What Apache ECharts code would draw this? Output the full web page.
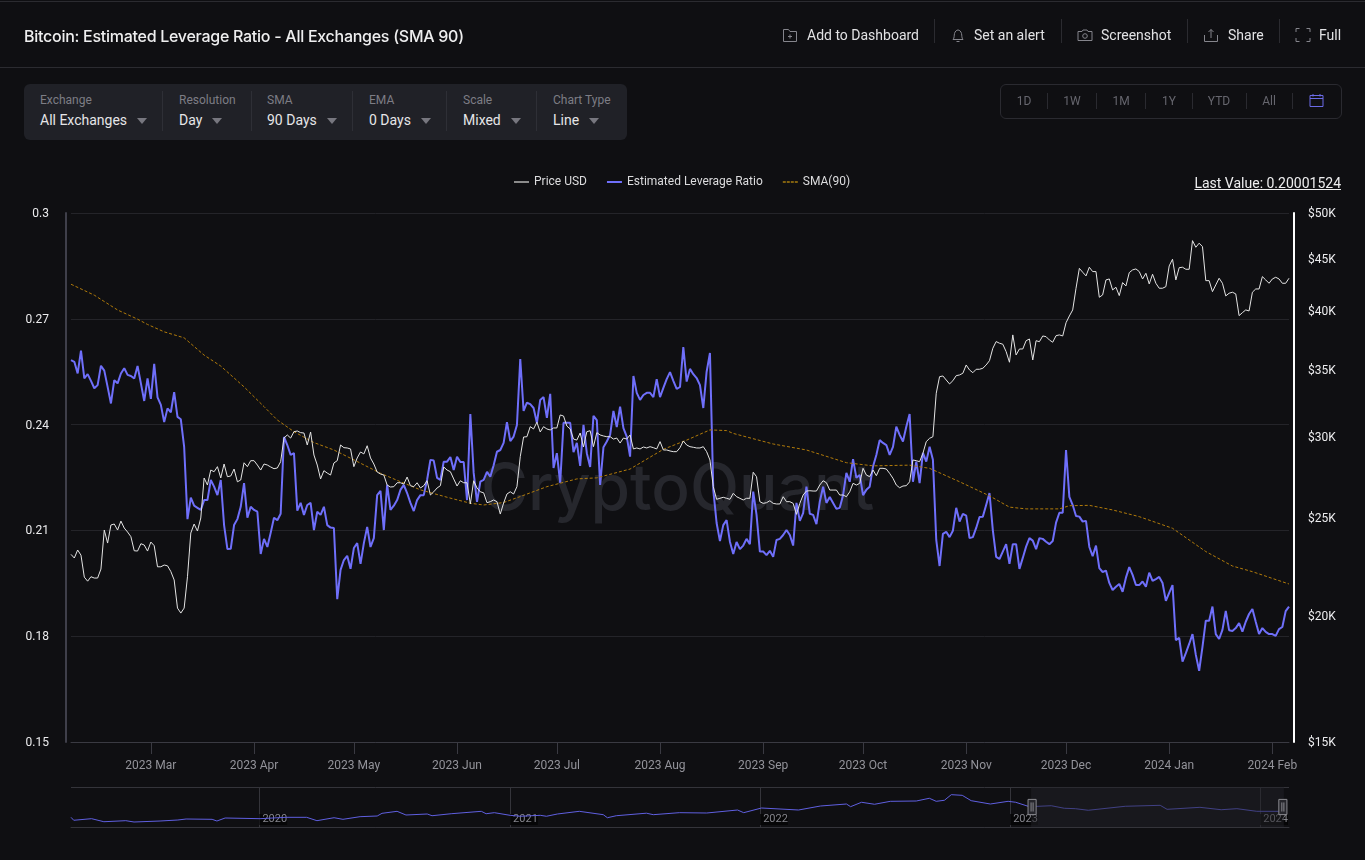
<!DOCTYPE html>
<html>
<head>
<meta charset="utf-8">
<title>Bitcoin: Estimated Leverage Ratio - All Exchanges (SMA 90)</title>
<script src="https://cdn.jsdelivr.net/npm/echarts@6/dist/echarts.min.js"></script>
<style>
  html, body { margin: 0; padding: 0; background: #0f0f12; }
  body { width: 1365px; height: 860px; position: relative; overflow: hidden; font-family: Roboto, sans-serif; color: #e6e6e8; }
  #chart { position: absolute; left: 0; top: 0; width: 1365px; height: 860px; }
  .abs { position: absolute; white-space: nowrap; }
  .rule { position: absolute; background: #2b2b30; }
  .title { left: 24px; top: 26px; font: 500 16px/20px Inter, sans-serif; color: #eeeeef; letter-spacing: -0.27px; }
  .action { top: 26px; font-size: 14px; line-height: 18px; color: #e2e2e4; }
  .icon { position: absolute; top: 27px; width: 16px; height: 16px; fill: none; stroke: #85858c; stroke-width: 1; }
  .filters { position: absolute; left: 24px; top: 84px; width: 603px; height: 56px; background: #202127; border-radius: 6px; }
  .flabel { top: 93px; font-size: 12px; line-height: 14px; color: #7d7d85; }
  .fvalue { top: 111px; font-size: 14px; line-height: 18px; color: #e6e6e8; }
  .arrow { position: absolute; top: 118px; width: 0; height: 0; border-left: 5.5px solid transparent; border-right: 5.5px solid transparent; border-top: 6px solid #77777f; }
  .fsep { position: absolute; top: 91px; width: 1px; height: 40px; background: #2e2f36; }
  .ranges { position: absolute; left: 1000px; top: 84px; width: 340px; height: 33px; border: 1px solid #2a2a30; border-radius: 6px; }
  .range { top: 94px; font-size: 12px; line-height: 14px; color: #66666e; transform: translateX(-50%); }
  .rsep { position: absolute; top: 93px; width: 1px; height: 16px; background: #2a2a30; }
  .last { right: 24px; top: 175px; font-size: 14px; line-height: 17px; color: #eeeeef; text-decoration: underline; }
</style>
</head>
<body>
<div id="chart"></div>

<div class="rule" style="left:0;top:1px;width:1365px;height:1px"></div>
<div class="rule" style="left:0;top:67px;width:1365px;height:1px"></div>
<div class="abs title">Bitcoin: Estimated Leverage Ratio - All Exchanges (SMA 90)</div>

<svg class="icon" style="left:782px" viewBox="0 0 16 16"><path d="M1.5 14.5V2.5h5l1.5 2h6.5v10zM8 7.5v4M6 9.5h4"/></svg>
<div class="abs action" style="left:807px">Add to Dashboard</div>
<div class="rule" style="left:934px;top:19px;width:1px;height:24px"></div>
<svg class="icon" style="left:950px" viewBox="0 0 16 16"><path d="M3 12.5c1.5-1.5 1-4 1.5-6S6.500 3 8 3s3 1.500 3.500 3.500 0 4.500 1.500 6zM6.500 14.500h3"/></svg>
<div class="abs action" style="left:974px">Set an alert</div>
<div class="rule" style="left:1061px;top:19px;width:1px;height:24px"></div>
<svg class="icon" style="left:1077px" viewBox="0 0 16 16"><path d="M1 4.500h4l1-1.500h4l1 1.500h4v9H1z"/><circle cx="8" cy="9" r="2.300"/></svg>
<div class="abs action" style="left:1101px">Screenshot</div>
<div class="rule" style="left:1187px;top:19px;width:1px;height:24px"></div>
<svg class="icon" style="left:1203px" viewBox="0 0 16 16"><path d="M1.500 8v6.500h13V8M8 11V2.500M5.500 5L8 2.500 10.500 5"/></svg>
<div class="abs action" style="left:1228px">Share</div>
<div class="rule" style="left:1279px;top:19px;width:1px;height:24px"></div>
<svg class="icon" style="left:1295px" viewBox="0 0 16 16"><path d="M1 5V1.500h3.500M11.500 1.500H15V5M15 11v3.500h-3.500M4.500 14.500H1V11"/></svg>
<div class="abs action" style="left:1319px">Full</div>

<div class="filters"></div>
<div class="abs flabel" style="left:40px">Exchange</div>
<div class="abs fvalue" style="left:40px">All Exchanges</div>
<div class="arrow" style="left:137px"></div>
<div class="fsep" style="left:162px"></div>
<div class="abs flabel" style="left:179px">Resolution</div>
<div class="abs fvalue" style="left:179px">Day</div>
<div class="arrow" style="left:212px"></div>
<div class="fsep" style="left:251px"></div>
<div class="abs flabel" style="left:267px">SMA</div>
<div class="abs fvalue" style="left:267px">90 Days</div>
<div class="arrow" style="left:327px"></div>
<div class="fsep" style="left:352px"></div>
<div class="abs flabel" style="left:369px">EMA</div>
<div class="abs fvalue" style="left:369px">0 Days</div>
<div class="arrow" style="left:421px"></div>
<div class="fsep" style="left:446px"></div>
<div class="abs flabel" style="left:463px">Scale</div>
<div class="abs fvalue" style="left:463px">Mixed</div>
<div class="arrow" style="left:511px"></div>
<div class="fsep" style="left:536px"></div>
<div class="abs flabel" style="left:553px">Chart Type</div>
<div class="abs fvalue" style="left:553px">Line</div>
<div class="arrow" style="left:589px"></div>

<div class="ranges"></div>
<div class="abs range" style="left:1024px">1D</div>
<div class="rsep" style="left:1047px"></div>
<div class="abs range" style="left:1072px">1W</div>
<div class="rsep" style="left:1096px"></div>
<div class="abs range" style="left:1121px">1M</div>
<div class="rsep" style="left:1145px"></div>
<div class="abs range" style="left:1169px">1Y</div>
<div class="rsep" style="left:1192px"></div>
<div class="abs range" style="left:1219px">YTD</div>
<div class="rsep" style="left:1246px"></div>
<div class="abs range" style="left:1269px">All</div>
<div class="rsep" style="left:1292px"></div>
<svg class="abs" style="left:1309px;top:93px" width="15" height="15" viewBox="0 0 15 15" fill="none" stroke="#6a6ae6" stroke-width="1"><path d="M1 2.500h13v11H1zM1 5.500h13M4 1v2.500M11 1v2.500"/></svg>

<div class="abs last">Last Value: 0.20001524</div>

<script>
const firstDay = '2023-02-05';

const priceUsd = [
  22990, 22800, 23220, 22950, 21830, 21630, 21850, 21785, 21785, 22235, 24300, 23590, 24580, 24635, 24300, 24800, 24410, 24190, 23935, 23180,
  23165, 23555, 23485, 23165, 23645, 23450, 22350, 22350, 22440, 22400, 22110, 21690, 20345, 20115, 20345, 21850, 24135, 24635, 24245, 24975,
  27355, 26920, 27855, 27750, 28070, 27355, 28240, 27435, 27480, 27920, 27120, 27230, 28320, 28070, 28455, 28455, 28175, 27855, 28240, 28175,
  28050, 27940, 27985, 28390, 29960, 30170, 29960, 30395, 30445, 30330, 30305, 29490, 30375, 28825, 28175, 27295, 27815, 27665, 27540, 28305,
  28455, 29490, 29310, 29290, 29225, 28070, 28630, 29025, 28895, 29440, 28630, 28240, 27730, 27605, 27540, 26920, 26800, 26820, 27060, 27060,
  26980, 27415, 26880, 26820, 27060, 26740, 26880, 27185, 26315, 26510, 26740, 26880, 28050, 27855, 27750, 27295, 26860, 27185, 27060, 27060,
  25785, 27185, 26740, 26510, 26450, 25860, 25920, 26020, 25920, 25200, 25840, 26375, 26510, 26375, 26820, 28715, 30030, 30050, 30745, 30585,
  31055, 30375, 30745, 30585, 30515, 30655, 30655, 31575, 31500, 30790, 30585, 29890, 29820, 30305, 29355, 30395, 30465, 29375, 30330, 30170,
  30100, 30050, 30050, 29890, 29960, 29620, 29960, 29890, 30170, 29225, 29290, 29225, 29355, 29290, 29375, 29310, 29225, 29715, 29155, 29155,
  29090, 29045, 29045, 29310, 29760, 29490, 29375, 29335, 29290, 29290, 29375, 29045, 28500, 26820, 26060, 26120, 26180, 26120, 26060, 26415,
  26215, 26120, 26020, 26120, 26120, 27715, 27435, 25920, 25820, 25860, 25975, 25820, 25785, 25785, 26215, 25920, 25920, 25820, 25185, 25820,
  26315, 26555, 26575, 26555, 26555, 26920, 27185, 27060, 26615, 26615, 26615, 26315, 26315, 26215, 26510, 27025, 26920, 27025, 27965, 27540,
  27435, 27855, 27500, 27965, 27965, 27920, 27645, 27335, 26920, 26755, 26860, 26880, 27120, 28500, 28455, 28390, 28940, 29715, 29940, 30050,
  33175, 34450, 34505, 34190, 33885, 34135, 34530, 34585, 34720, 35380, 34980, 34765, 35035, 35035, 35115, 35380, 35730, 36750, 37315, 37175,
  37090, 36470, 35600, 37885, 36195, 36690, 36690, 37390, 37535, 35785, 37390, 37305, 37795, 37735, 37450, 37260, 37820, 37885, 37795, 38950,
  39555, 40100, 42130, 44080, 43695, 43330, 44195, 43760, 43760, 41275, 41495, 42935, 43030, 41970, 42225, 41430, 42675, 42350, 43655, 43925,
  44025, 43760, 43030, 43590, 42545, 43495, 42610, 42130, 42130, 42285, 44325, 45005, 42935, 44150, 44195, 43990, 43990, 46950, 46250, 46680,
  46315, 42865, 42865, 41805, 42450, 43100, 42610, 41400, 41655, 41750, 41590, 39585, 39855, 40100, 40010, 41750, 42060, 42060, 43260, 42935,
  42610, 43030, 43195, 43030, 42610, 42610, 43100
];

const leverageRatio = [
  0.2583, 0.2578, 0.2545, 0.2610, 0.2531, 0.2543, 0.2524, 0.2503, 0.2512, 0.2567, 0.2553, 0.2507, 0.2460, 0.2526, 0.2517, 0.2545, 0.2560, 0.2541, 0.2538, 0.2531,
  0.2566, 0.2517, 0.2467, 0.2531, 0.2473, 0.2572, 0.2477, 0.2456, 0.2407, 0.2446, 0.2435, 0.2492, 0.2422, 0.2415, 0.2337, 0.2132, 0.2193, 0.2170, 0.2164, 0.2158,
  0.2186, 0.2186, 0.2243, 0.2224, 0.2200, 0.2243, 0.2115, 0.2047, 0.2048, 0.2115, 0.2132, 0.2167, 0.2234, 0.2136, 0.2167, 0.2158, 0.2153, 0.2033, 0.2076, 0.2053,
  0.2093, 0.2136, 0.2129, 0.2147, 0.2365, 0.2342, 0.2314, 0.2319, 0.2156, 0.2178, 0.2144, 0.2172, 0.2178, 0.2101, 0.2153, 0.2144, 0.2167, 0.2115, 0.2108, 0.2107,
  0.1905, 0.1988, 0.2016, 0.2028, 0.1991, 0.2050, 0.2064, 0.2005, 0.2064, 0.2110, 0.2053, 0.2078, 0.2200, 0.2212, 0.2101, 0.2229, 0.2158, 0.2170, 0.2186, 0.2215,
  0.2229, 0.2206, 0.2178, 0.2155, 0.2186, 0.2200, 0.2200, 0.2243, 0.2300, 0.2298, 0.2249, 0.2243, 0.2295, 0.2295, 0.2308, 0.2271, 0.2309, 0.2294, 0.2294, 0.2186,
  0.2430, 0.2263, 0.2181, 0.2238, 0.2243, 0.2266, 0.2252, 0.2285, 0.2323, 0.2328, 0.2348, 0.2407, 0.2353, 0.2366, 0.2399, 0.2586, 0.2439, 0.2462, 0.2458, 0.2447,
  0.2405, 0.2470, 0.2478, 0.2419, 0.2487, 0.2277, 0.2319, 0.2235, 0.2405, 0.2405, 0.2405, 0.2322, 0.2348, 0.2283, 0.2399, 0.2319, 0.2280, 0.2425, 0.2413, 0.2229,
  0.2336, 0.2352, 0.2371, 0.2439, 0.2393, 0.2451, 0.2390, 0.2366, 0.2309, 0.2538, 0.2490, 0.2470, 0.2484, 0.2490, 0.2490, 0.2478, 0.2529, 0.2478, 0.2504, 0.2529,
  0.2549, 0.2524, 0.2501, 0.2507, 0.2620, 0.2522, 0.2558, 0.2543, 0.2532, 0.2512, 0.2447, 0.2550, 0.2603, 0.2215, 0.2121, 0.2070, 0.2115, 0.2129, 0.2068, 0.2033,
  0.2067, 0.2047, 0.2057, 0.2076, 0.2061, 0.2210, 0.2144, 0.2040, 0.2040, 0.2030, 0.2042, 0.2025, 0.2073, 0.2076, 0.2087, 0.2101, 0.2087, 0.2057, 0.2178, 0.2127,
  0.2149, 0.2224, 0.2147, 0.2144, 0.2118, 0.2181, 0.2224, 0.2178, 0.2195, 0.2178, 0.2161, 0.2164, 0.2200, 0.2263, 0.2238, 0.2302, 0.2249, 0.2257, 0.2200, 0.2215,
  0.2224, 0.2281, 0.2314, 0.2356, 0.2348, 0.2342, 0.2314, 0.2337, 0.2394, 0.2371, 0.2352, 0.2394, 0.2430, 0.2238, 0.2295, 0.2234, 0.2320, 0.2295, 0.2337, 0.2300,
  0.2073, 0.1999, 0.2090, 0.2096, 0.2081, 0.2099, 0.2164, 0.2125, 0.2147, 0.2142, 0.2078, 0.2081, 0.2107, 0.2138, 0.2139, 0.2172, 0.2206, 0.2101, 0.2025, 0.2019,
  0.2040, 0.2061, 0.2005, 0.2061, 0.2061, 0.1991, 0.2022, 0.2054, 0.2078, 0.2071, 0.2047, 0.2078, 0.2076, 0.2068, 0.2061, 0.2070, 0.2122, 0.2150, 0.2150, 0.2328,
  0.2195, 0.2172, 0.2141, 0.2139, 0.2125, 0.2127, 0.2053, 0.2027, 0.2057, 0.1993, 0.1982, 0.1986, 0.1951, 0.1931, 0.1940, 0.1948, 0.1926, 0.1966, 0.1996, 0.1974,
  0.1945, 0.1945, 0.1955, 0.1940, 0.1980, 0.1957, 0.1962, 0.1968, 0.1951, 0.1900, 0.1923, 0.1945, 0.1789, 0.1795, 0.1728, 0.1752, 0.1778, 0.1806, 0.1747, 0.1702,
  0.1770, 0.1844, 0.1844, 0.1884, 0.1806, 0.1792, 0.1818, 0.1872, 0.1817, 0.1815, 0.1823, 0.1837, 0.1813, 0.1841, 0.1863, 0.1877, 0.1841, 0.1806, 0.1823, 0.1812,
  0.1806, 0.1806, 0.1801, 0.1820, 0.1826, 0.1871, 0.1884
];

// the average is smooth, so it is read at its bends only: day number since firstDay, value
const smaDays = [0, 7, 14, 20, 23, 28, 34, 40, 45, 52, 58, 62, 67, 73, 79, 85, 93, 99, 105, 113, 120, 124, 130, 135, 143, 152, 158, 168, 178, 185, 192, 197, 199, 211, 221, 233, 241, 252, 258, 267, 276, 282, 287, 297, 300, 306, 313, 321, 331, 341, 349, 355, 366];
const smaValues = [0.2798, 0.2767, 0.2725, 0.2699, 0.2684, 0.2663, 0.2646, 0.2597, 0.2566, 0.2507, 0.2451, 0.2413, 0.2380, 0.2349, 0.2328, 0.2300, 0.2262, 0.2238, 0.2215, 0.2194, 0.2177, 0.2172, 0.2179, 0.2196, 0.2224, 0.2246, 0.2249, 0.2274, 0.2330, 0.2356, 0.2385, 0.2383, 0.2375, 0.2345, 0.2328, 0.2292, 0.2283, 0.2285, 0.2276, 0.2238, 0.2198, 0.2166, 0.2161, 0.2161, 0.2170, 0.2171, 0.2158, 0.2139, 0.2106, 0.2040, 0.1999, 0.1983, 0.1948];

const overviewDates = ['2019-04-01', '2019-04-05', '2019-05-01', '2019-05-19', '2019-06-20', '2019-07-02', '2019-08-09', '2019-09-04', '2019-09-16', '2019-10-24', '2019-10-31', '2019-11-12', '2020-01-02', '2020-02-09', '2020-03-10', '2020-03-25', '2020-04-19', '2020-05-02', '2020-05-27', '2020-06-21', '2020-06-28', '2020-07-20', '2020-08-02', '2020-09-02', '2020-09-09', '2020-10-07', '2020-11-20', '2020-11-27', '2020-12-09', '2021-01-01', '2021-01-16', '2021-02-14', '2021-02-23', '2021-03-11', '2021-04-12', '2021-05-17', '2021-05-23', '2021-06-05', '2021-07-19', '2021-07-29', '2021-09-05', '2021-10-15', '2021-11-29', '2021-12-08', '2022-01-03', '2022-02-26', '2022-03-30', '2022-05-07', '2022-05-13', '2022-05-29', '2022-06-17', '2022-07-10', '2022-08-17', '2022-09-05', '2022-09-15', '2022-09-27', '2022-10-07', '2022-10-23', '2022-11-05', '2022-12-03', '2022-12-29', '2023-01-09', '2023-01-29', '2023-03-02', '2023-03-21', '2023-04-06', '2023-04-25', '2023-06-18', '2023-08-08', '2023-08-18', '2023-10-05', '2023-11-05', '2023-11-28', '2023-12-27', '2024-02-03'];
const overviewValues = [0.121, 0.084, 0.104, 0.066, 0.079, 0.0625, 0.075, 0.0875, 0.100, 0.096, 0.075, 0.1125, 0.104, 0.121, 0.121, 0.079, 0.116, 0.096, 0.129, 0.1375, 0.171, 0.196, 0.150, 0.1625, 0.141, 0.166, 0.196, 0.166, 0.179, 0.146, 0.134, 0.146, 0.134, 0.1625, 0.196, 0.154, 0.116, 0.141, 0.1725, 0.154, 0.179, 0.175, 0.2125, 0.179, 0.2375, 0.2125, 0.2625, 0.2875, 0.254, 0.309, 0.284, 0.321, 0.325, 0.359, 0.321, 0.334, 0.404, 0.396, 0.329, 0.2875, 0.321, 0.309, 0.254, 0.266, 0.234, 0.229, 0.209, 0.259, 0.271, 0.221, 0.246, 0.216, 0.229, 0.196, 0.196];

const yearTicks = ['2020-01-01', '2021-01-01', '2022-01-01', '2023-01-01', '2024-01-01'];
const priceTicks = [15000, 20000, 25000, 30000, 35000, 40000, 45000, 50000];
const monthNames = ['Jan', 'Feb', 'Mar', 'Apr', 'May', 'Jun', 'Jul', 'Aug', 'Sep', 'Oct', 'Nov', 'Dec'];

const categories = priceUsd.map((_, i) => {
  const d = new Date(firstDay + 'T00:00:00Z');
  d.setUTCDate(d.getUTCDate() + i);
  return d.toISOString().slice(0, 10);
});
const isFirstOfMonth = (i, value) => value.slice(8) === '01';
const utc = (s) => Date.parse(s + 'T00:00:00Z');

const gridLine = '#242429';
const axisGrey = '#3a3a42';
const solidIcon = 'path://M0 0H15V2H0Z';
const dashedIcon = 'path://M0 0H3V2H0Z M4 0H7V2H4Z M8 0H11V2H8Z M12 0H15V2H12Z';

const chart = echarts.init(document.getElementById('chart'));

chart.setOption({
  animation: false,
  backgroundColor: '#0f0f12',
  textStyle: { fontFamily: 'Roboto, sans-serif' },
  graphic: [
    {
      type: 'text',
      left: 481,
      top: 459,
      z: 1,
      silent: true,
      style: { text: 'CryptoQuant', font: '500 64px Inter, sans-serif', fill: '#26272d' }
    }
  ],
  legend: {
    left: 509,
    top: 171,
    itemWidth: 15,
    itemHeight: 2,
    itemGap: 20,
    data: [
      { name: 'Price USD', icon: solidIcon, itemStyle: { color: '#8b8b8b' } },
      { name: 'Estimated Leverage Ratio', icon: solidIcon, itemStyle: { color: '#6f6ffa' } },
      { name: 'SMA(90)', icon: dashedIcon, itemStyle: { color: '#80600f' } }
    ],
    textStyle: { color: '#dcdcde', fontSize: 12 }
  },
  grid: [
    { left: 71, right: 76, top: 213, bottom: 118 },
    { left: 71, right: 76, top: 787, height: 40 }
  ],
  xAxis: [
    {
      type: 'category',
      gridIndex: 0,
      data: categories,
      boundaryGap: false,
      axisLine: { lineStyle: { color: axisGrey } },
      axisTick: { length: 12, interval: isFirstOfMonth, lineStyle: { color: axisGrey } },
      axisLabel: {
        color: '#93939a',
        fontSize: 12,
        margin: 18,
        interval: isFirstOfMonth,
        formatter: (value) => value.slice(0, 4) + ' ' + monthNames[Number(value.slice(5, 7)) - 1]
      },
      splitLine: { show: false }
    },
    {
      type: 'value',
      gridIndex: 1,
      min: utc('2019-04-01'),
      max: utc('2024-02-12'),
      axisLine: { lineStyle: { color: '#34343a' } },
      axisTick: { show: false, customValues: yearTicks.map(utc) },
      axisLabel: {
        inside: true,
        color: '#85858c',
        fontSize: 11,
        margin: 2,
        align: 'left',
        padding: [0, 0, 0, 3],
        backgroundColor: '#060607',
        customValues: yearTicks.map(utc),
        hideOverlap: false,
        formatter: (value) => String(new Date(value).getUTCFullYear())
      },
      splitLine: { show: true, lineStyle: { color: '#34343a' } }
    },
    {
      // only here so the slider below has an axis of its own to window
      type: 'value',
      gridIndex: 1,
      show: false,
      min: utc('2019-04-01'),
      max: utc('2024-02-12')
    }
  ],
  yAxis: [
    {
      type: 'value',
      gridIndex: 0,
      min: 0.15,
      max: 0.3,
      interval: 0.03,
      offset: 5,
      axisLine: { show: true, lineStyle: { color: '#3f3f4a', width: 2 } },
      axisTick: { show: false },
      axisLabel: {
        color: '#ececee',
        fontSize: 12,
        margin: 17,
        verticalAlign: 'top',
        verticalAlignMinLabel: 'top',
        verticalAlignMaxLabel: 'top',
        lineHeight: 2
      },
      splitLine: { lineStyle: { color: gridLine } }
    },
    {
      type: 'log',
      gridIndex: 0,
      position: 'right',
      min: 15000,
      max: 50000,
      offset: 5,
      axisLine: { show: true, lineStyle: { color: '#ffffff', width: 2 } },
      axisTick: { show: false, customValues: priceTicks },
      axisLabel: {
        color: '#ececee',
        fontSize: 12,
        margin: 14,
        verticalAlign: 'top',
        verticalAlignMinLabel: 'top',
        verticalAlignMaxLabel: 'top',
        lineHeight: 2,
        customValues: priceTicks,
        formatter: (value) => '$' + Math.round(value / 1000) + 'K'
      },
      splitLine: { show: false }
    },
    {
      type: 'value',
      gridIndex: 1,
      min: 0,
      max: 0.5,
      interval: 0.5,
      axisLine: { show: false },
      axisTick: { show: false },
      axisLabel: { show: false },
      splitLine: { lineStyle: { color: '#34343a' } }
    }
  ],
  dataZoom: [
    {
      type: 'slider',
      xAxisIndex: 2,
      filterMode: 'none',
      startValue: utc('2023-01-30'),
      endValue: utc('2024-02-03'),
      left: 71,
      right: 76,
      top: 787,
      height: 40,
      showDataShadow: false,
      showDetail: false,
      brushSelect: false,
      moveHandleSize: 0,
      borderColor: 'transparent',
      backgroundColor: 'transparent',
      fillerColor: 'rgba(34,34,40,0.5)',
      handleIcon: 'path://M0,0 H8 V15 H0 Z M3,3 V12 M5,3 V12',
      handleSize: '38%',
      handleStyle: { color: '#26262c', borderColor: '#8a8a90', borderWidth: 1 }
    }
  ],
  series: [
    {
      name: 'Price USD',
      type: 'line',
      xAxisIndex: 0,
      yAxisIndex: 1,
      data: priceUsd,
      symbol: 'none',
      z: 5,
      lineStyle: { color: '#e4e4e4', width: 1 }
    },
    {
      name: 'Estimated Leverage Ratio',
      type: 'line',
      xAxisIndex: 0,
      yAxisIndex: 0,
      data: leverageRatio,
      symbol: 'none',
      z: 3,
      lineStyle: { color: '#6f6ffa', width: 2 }
    },
    {
      name: 'SMA(90)',
      type: 'line',
      xAxisIndex: 0,
      yAxisIndex: 0,
      data: smaDays.map((day, i) => [day, smaValues[i]]),
      symbol: 'none',
      z: 4,
      lineStyle: { color: '#b07a0a', width: 1, type: [3, 2] }
    },
    {
      name: 'overview',
      type: 'line',
      xAxisIndex: 1,
      yAxisIndex: 2,
      data: overviewDates.map((d, i) => [utc(d), overviewValues[i]]),
      symbol: 'none',
      silent: true,
      lineStyle: { color: '#5f5fe0', width: 1 }
    },
    {
      name: 'overview window',
      type: 'line',
      xAxisIndex: 2,
      yAxisIndex: 2,
      data: overviewDates.map((d, i) => [utc(d), overviewValues[i]]),
      symbol: 'none',
      silent: true,
      lineStyle: { opacity: 0 }
    }
  ]
});

window.addEventListener('resize', () => chart.resize());
</script>
</body>
</html>
